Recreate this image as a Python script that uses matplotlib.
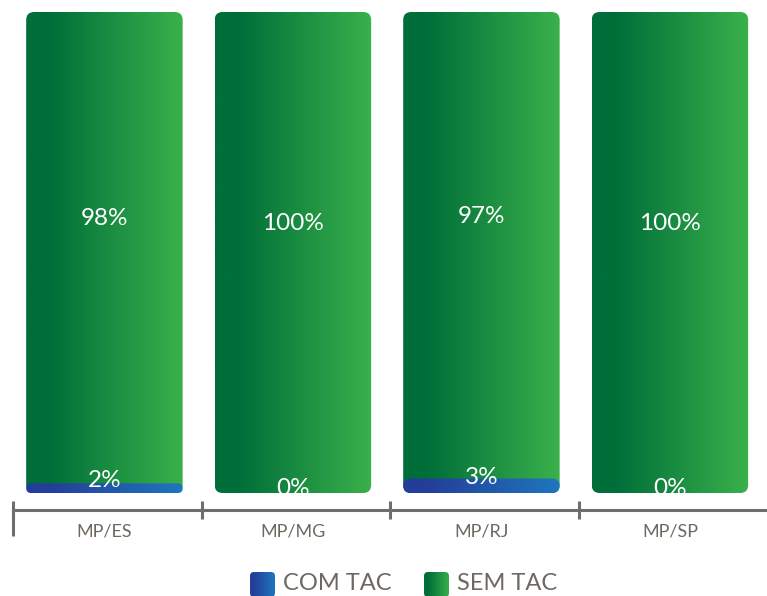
import numpy as np
import matplotlib
matplotlib.use("Agg")
import matplotlib.pyplot as plt
from matplotlib.patches import FancyBboxPatch
from matplotlib.colors import to_rgb

# Data
categories = ["MP/ES", "MP/MG", "MP/RJ", "MP/SP"]
com_tac = [2, 0, 3, 0]
sem_tac = [98, 100, 97, 100]
series_names = ["COM TAC", "SEM TAC"]

GREEN = ("#006e39", "#3ab14b")
BLUE = ("#243e98", "#1e76be")
LABEL_GREY = "#6f6861"
AXIS_GREY = "#6e6e6e"
FONT = ["Lato", "DejaVu Sans"]

W, H, DPI = 767, 596, 100
fig = plt.figure(figsize=(W / DPI, H / DPI), dpi=DPI)

# Axes spans from the left tick to the right edge, bottom spine is the axis line
ax_left, ax_right = 13, 767
ax_top, ax_bottom = 12, 510
bar_base_px = 493
ax = fig.add_axes([ax_left / W, (H - ax_bottom) / H,
                   (ax_right - ax_left) / W, (ax_bottom - ax_top) / H])

n = len(categories)
ax.set_xlim(-0.5, n - 0.5)
units_per_px = 100 / (bar_base_px - ax_top)
ax.set_ylim(-(ax_bottom - bar_base_px) * units_per_px, 100)

# conversion for round corners in data units
x_per_px = n / (ax_right - ax_left)
aspect = units_per_px / x_per_px
radius_px = 8


def gradient_image(c0, c1, flat=0.15, n_steps=256):
    a, b = np.array(to_rgb(c0)), np.array(to_rgb(c1))
    t = np.linspace(0, 1, n_steps)
    t = np.clip((t - flat) / (1 - flat), 0, 1)
    return (a[None, :] * (1 - t[:, None]) + b[None, :] * t[:, None])[None, :, :]


def gradient_box(axis, x0, y0, w, h, colors, r_px, asp, xpp):
    r_px = min(r_px, h / asp / xpp / 2)
    patch = FancyBboxPatch((x0, y0), w, h,
                           boxstyle=f"round,pad=0,rounding_size={r_px * xpp}",
                           mutation_aspect=asp, linewidth=0,
                           facecolor="none", edgecolor="none")
    axis.add_patch(patch)
    im = axis.imshow(gradient_image(*colors), extent=[x0, x0 + w, y0, y0 + h],
                     aspect="auto", interpolation="bilinear", zorder=2)
    im.set_clip_path(patch)
    return patch


bar_w = 0.83
for i, (c, s) in enumerate(zip(com_tac, sem_tac)):
    x = i - 0.015
    x0 = x - bar_w / 2
    total = c + s
    gpatch = gradient_box(ax, x0, 0, bar_w, total, GREEN, radius_px, aspect, x_per_px)
    if c > 0:
        gradient_box(ax, x0, 0, bar_w, c, BLUE, radius_px, aspect, x_per_px)
    # value labels
    ax.text(x, c + (total - c) / 2 + 6, f"{s}%", ha="center", va="center",
            color="white", fontsize=17.5, family=FONT, zorder=5)
    t = ax.text(x, c * 0.75 + 1.0, f"{c}%", ha="center", va="center",
                color="white", fontsize=17.5, family=FONT, zorder=5)
    t.set_clip_path(gpatch)

# Axis styling
for side in ("top", "right", "left"):
    ax.spines[side].set_visible(False)
ax.spines["bottom"].set_color(AXIS_GREY)
ax.spines["bottom"].set_linewidth(2.2)
ax.set_yticks([])
ax.set_xticks(np.arange(n) - 0.5)
ax.set_xticklabels([])
ax.tick_params(axis="x", which="major", direction="inout", length=12.5,
               width=2.2, color=AXIS_GREY)
ax.set_xticks(np.arange(n) - 0.015, minor=True)
ax.set_xticklabels(categories, minor=True, fontsize=13, color=LABEL_GREY,
                   family=FONT)
ax.tick_params(axis="x", which="minor", length=0, pad=10)
ax.patch.set_visible(False)

# longer first tick mark
ax.plot([-0.5, -0.5], [0, -26 / (ax_bottom - ax_top)], transform=ax.get_xaxis_transform(),
        color=AXIS_GREY, lw=2.2, clip_on=False, solid_capstyle="butt")

# Legend with gradient swatches
legend_items = [(series_names[0], BLUE, 250, 283), (series_names[1], GREEN, 424, 457)]
sw = 25
for name, cols, sx, tx in legend_items:
    lax = fig.add_axes([sx / W, (H - 572 - sw) / H, sw / W, sw / H])
    lax.set_xlim(0, 1)
    lax.set_ylim(0, 1)
    lax.axis("off")
    gradient_box(lax, 0, 0, 1, 1, cols, 4, 1.0, 1 / sw)
    fig.text(tx / W, (H - 583) / H, name, ha="left", va="center",
             fontsize=17, color=LABEL_GREY, family=FONT)

fig.savefig("out.png", dpi=DPI)
